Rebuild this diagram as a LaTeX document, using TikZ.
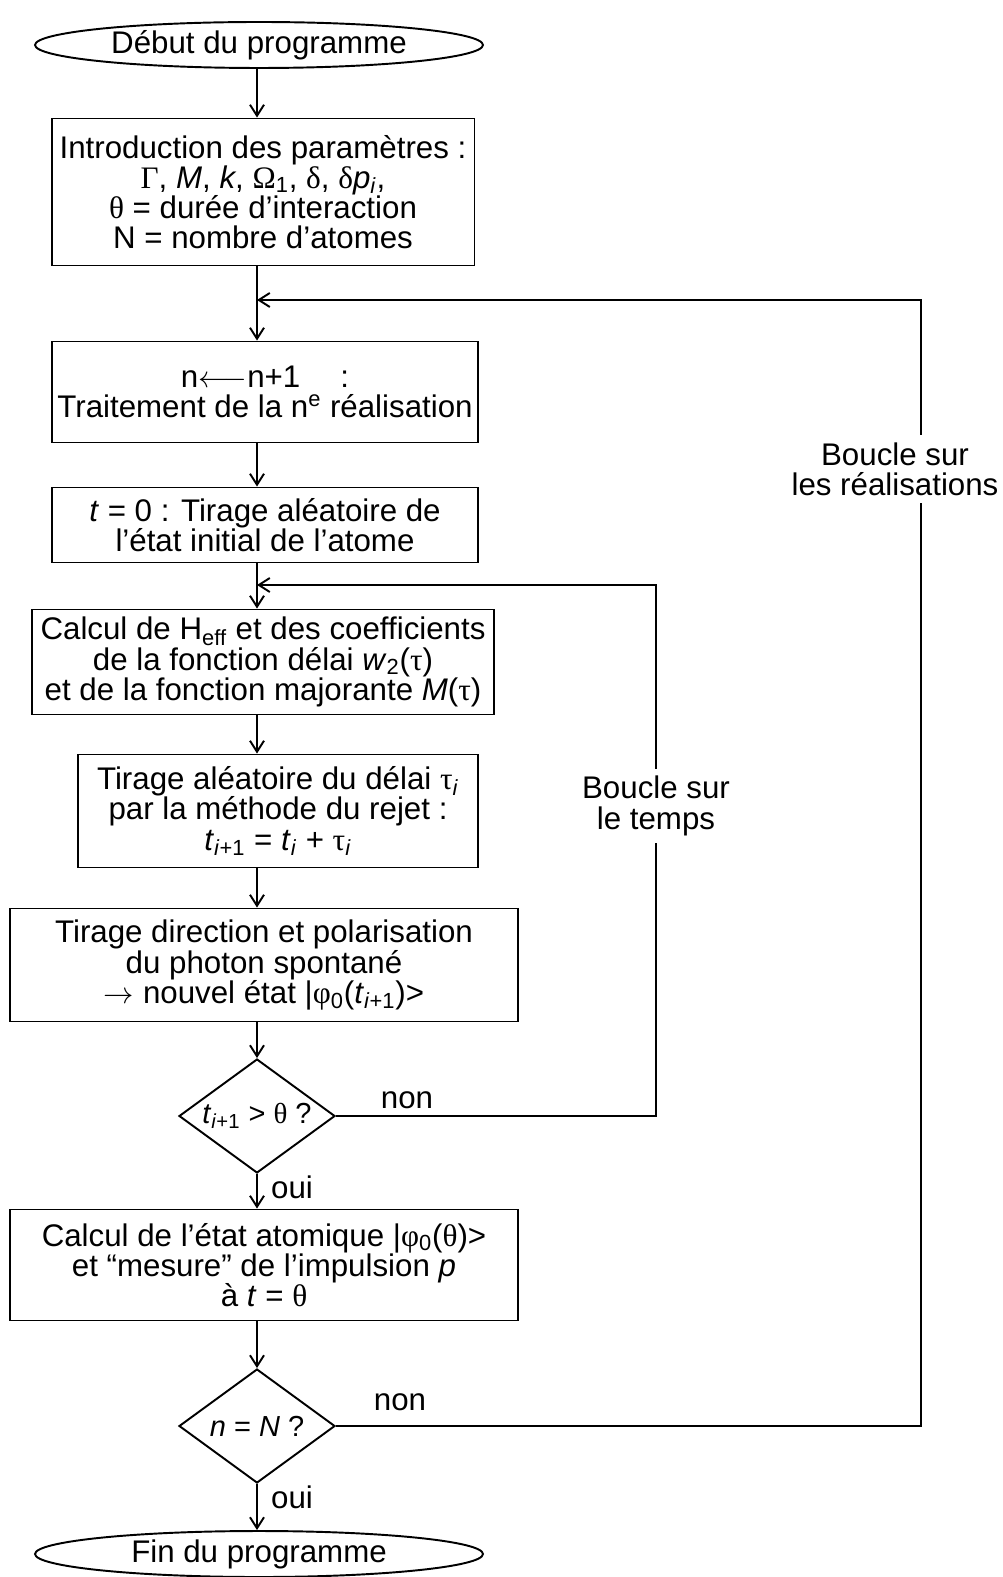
\documentclass[tikz,border=0pt]{standalone}
\usepackage{fontspec}
\setmainfont{Liberation Sans}
\newfontfamily\grk{Liberation Serif}
\usetikzlibrary{shapes.geometric,arrows.meta,calc}

\newcommand{\gr}[1]{{\grk #1}}
\newcommand{\sbi}{\textsubscript{\textit{i}}}
\newcommand{\sbip}{\textsubscript{\textit{i}+1}}

\begin{document}
\begin{tikzpicture}[x=0.02cm,y=-0.02cm,
    font=\fontsize{17.8}{17.2}\selectfont,
    box/.style={draw,line width=1.1pt,inner sep=0pt,align=center},
    term/.style={draw,ellipse,line width=1.1pt,inner sep=0pt,minimum width=8.96cm,minimum height=0.92cm},
    decision/.style={draw,diamond,line width=1.1pt,shape aspect=1.4,inner sep=0pt,minimum width=3.12cm,minimum height=2.28cm,
        font=\fontsize{16.5}{16.8}\selectfont},
    arr/.style={line width=1.1pt,-{Straight Barb[length=2.2mm,width=2.8mm]}},
    loopline/.style={line width=1.1pt}]
    \useasboundingbox (0,0) rectangle (1002,1577);

    % Main column of the flow chart
    \coordinate (col) at (257,0);
    \coordinate (m1) at (257,300);
    \coordinate (m2) at (257,585);
    \coordinate (rloop) at (921,300);
    \coordinate (tloop) at (656,585);

    \node[term] (start) at (259,45) {Début du programme};
    \node[box,minimum width=8.46cm,minimum height=2.94cm] (param) at (263,192)
        {Introduction des paramètres :\\
         \gr{Γ}, \textit{M}, \textit{k}, \gr{Ω}\textsubscript{1}, \gr{δ}, \gr{δ}\textit{p}\sbi,\\
         \gr{θ} = durée d’interaction\\
         N = nombre d’atomes};
    \node[box,minimum width=8.52cm,minimum height=2.02cm] (incr) at (265,392)
        {n$\longleftarrow$n+1 \quad :\\
         Traitement de la n\textsuperscript{e} réalisation};
    \node[box,minimum width=8.52cm,minimum height=1.5cm] (init) at (265,525)
        {\textit{t} = 0 : Tirage aléatoire de\\
         l’état initial de l’atome};
    \node[box,minimum width=9.26cm,minimum height=2.1cm] (heff) at (263,662)
        {Calcul de H\textsubscript{eff} et des coefficients\\
         de la fonction délai \textit{w}\textsubscript{2}(\gr{τ})\\
         et de la fonction majorante \textit{M}(\gr{τ})};
    \node[box,minimum width=8cm,minimum height=2.26cm] (delai) at (278,811)
        {Tirage aléatoire du délai \gr{τ}\sbi\\
         par la méthode du rejet :\\
         \textit{t}\sbip{} = \textit{t}\sbi{} + \gr{τ}\sbi};
    \node[box,minimum width=10.18cm,minimum height=2.26cm] (photon) at (264,965)
        {Tirage direction et polarisation\\
         du photon spontané\\
         $\rightarrow$ nouvel état |\gr{φ}\textsubscript{0}(\textit{t}\sbip)>};
    \node[decision] (d1) at (257,1116) {\textit{t}\sbip{} > \gr{θ} ?};
    \node[box,minimum width=10.18cm,minimum height=2.22cm] (mesure) at (264,1265)
        {Calcul de l’état atomique |\gr{φ}\textsubscript{0}(\gr{θ})>\\
         et “mesure” de l’impulsion \textit{p}\\
         à \textit{t} = \gr{θ}};
    \node[decision] (d2) at (257,1426) {\textit{n} = \textit{N} ?};
    \node[term] (fin) at (259,1554) {Fin du programme};

    % Straight arrows down the column
    \draw[arr] (start.south -| col) -- (param.north -| col);
    \draw[arr] (param.south -| col) -- (incr.north -| col);
    \draw[arr] (incr.south -| col) -- (init.north -| col);
    \draw[arr] (init.south -| col) -- (heff.north -| col);
    \draw[arr] (heff.south -| col) -- (delai.north -| col);
    \draw[arr] (delai.south -| col) -- (photon.north -| col);
    \draw[arr] (photon.south -| col) -- (d1.north);
    \draw[arr] (d1.south) -- (mesure.north -| col);
    \draw[arr] (mesure.south -| col) -- (d2.north);
    \draw[arr] (d2.south) -- (fin.north -| col);

    % Loops back
    \draw[arr] (d1.east) -| (tloop) -- (m2);
    \draw[arr] (d2.east) -| (rloop) -- (m1);

    \node[fill=white,align=center,inner sep=4pt] (ltemps) at (656,806) {Boucle sur\\le temps};
    \node[fill=white,align=center,inner sep=4pt] (lreal) at (895,469) {Boucle sur\\les réalisations};
    \node (non1) at (407,1100) {non};
    \node (oui1) at (292,1187) {oui};
    \node (non2) at (400,1402) {non};
    \node (oui2) at (292,1497) {oui};
\end{tikzpicture}
\end{document}
